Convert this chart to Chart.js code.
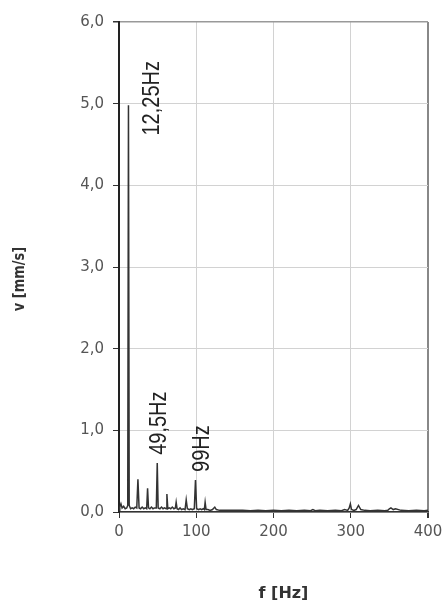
<!DOCTYPE html>
<html>
<head>
<meta charset="utf-8">
<script src="https://cdn.jsdelivr.net/npm/chart.js@4.4.1/dist/chart.umd.min.js"></script>
<style>
html,body{margin:0;padding:0;background:#fff;}
#wrap{width:444px;height:602px;position:relative;}
</style>
</head>
<body>
<div id="wrap"><canvas id="c" width="444" height="602"></canvas></div>
<script>
// Frequencies (Hz) and amplitudes (mm/s)
const freqs = [0, 1, 2.5, 4, 6, 8, 10, 11.3, 12.25, 13.2, 15, 17, 19, 21, 23, 24.5, 26, 28, 30, 32, 34, 35.8, 37, 38.2, 40, 42, 44, 46, 48.3, 49.5, 50.7, 53, 55, 57, 59, 61, 62, 63.2, 65, 67, 69, 71, 73, 74, 75.2, 77, 79, 81, 83, 85.5, 87, 88.5, 91, 93, 95, 97.5, 99, 100.5, 103, 105, 107, 109, 110.5, 111.5, 112.7, 115, 118, 121, 124, 126, 130, 140, 150, 160, 170, 180, 190, 200, 210, 220, 230, 240, 248, 251, 254, 260, 270, 280, 288, 292, 296, 298, 299.5, 301, 304, 307, 310, 313, 318, 325, 335, 344, 348, 350, 352, 355, 358, 365, 375, 385, 395, 400];
const amps  = [0.02, 0.06, 0.10, 0.05, 0.07, 0.04, 0.05, 0.08, 4.98, 0.08, 0.04, 0.05, 0.04, 0.06, 0.05, 0.40, 0.05, 0.04, 0.06, 0.04, 0.05, 0.04, 0.29, 0.05, 0.04, 0.06, 0.04, 0.05, 0.05, 0.60, 0.05, 0.04, 0.06, 0.04, 0.05, 0.04, 0.22, 0.04, 0.05, 0.04, 0.06, 0.04, 0.05, 0.12, 0.04, 0.03, 0.05, 0.03, 0.04, 0.03, 0.15, 0.04, 0.03, 0.04, 0.03, 0.04, 0.39, 0.04, 0.03, 0.04, 0.03, 0.04, 0.03, 0.12, 0.03, 0.03, 0.02, 0.03, 0.06, 0.03, 0.02, 0.02, 0.02, 0.02, 0.015, 0.02, 0.015, 0.02, 0.015, 0.02, 0.015, 0.02, 0.015, 0.03, 0.015, 0.02, 0.015, 0.02, 0.015, 0.03, 0.02, 0.05, 0.10, 0.03, 0.02, 0.03, 0.08, 0.03, 0.02, 0.015, 0.02, 0.015, 0.02, 0.04, 0.05, 0.03, 0.04, 0.02, 0.015, 0.02, 0.015, 0.02, 0.015];

const yTicks = ["0,0", "1,0", "2,0", "3,0", "4,0", "5,0", "6,0"];
const xTicks = ["0", "100", "200", "300", "400"];

const peakLabels = ["12,25Hz", "49,5Hz", "99Hz"];
const peakLabelX = [43, 53, 108];      // Hz (data units)
const peakLabelY = [4.61, 0.70, 0.49]; // mm/s (data units, text start)

const xTitle = "f [Hz]";
const yTitle = "v [mm/s]";

const points = freqs.map((f, i) => ({x: f, y: amps[i]}));

const overlay = {
  id: 'overlay',
  afterDatasetsDraw(chart) {
    const ctx = chart.ctx;
    const xs = chart.scales.x, ys = chart.scales.y;
    ctx.save();
    ctx.fillStyle = '#222';
    ctx.font = '20px "Liberation Sans", Arial, sans-serif';
    ctx.textAlign = 'left';
    ctx.textBaseline = 'middle';
    for (let i = 0; i < peakLabels.length; i++) {
      const px = xs.getPixelForValue(peakLabelX[i]);
      const py = ys.getPixelForValue(peakLabelY[i]);
      ctx.save();
      ctx.translate(px, py);
      ctx.rotate(-Math.PI / 2);
      ctx.scale(1, 1.15);
      ctx.fillText(peakLabels[i], 0, 0);
      ctx.restore();
    }
    // axis titles
    ctx.fillStyle = '#333';
    ctx.font = 'bold 16px "DejaVu Sans", sans-serif';
    ctx.textAlign = 'center';
    ctx.textBaseline = 'middle';
    const ca = chart.chartArea;
    ctx.fillText(xTitle, (ca.left + ca.right) / 2 + 10, 594);
    ctx.save();
    ctx.translate(20, (ca.top + ca.bottom) / 2 + 12);
    ctx.rotate(-Math.PI / 2);
    ctx.scale(1, 1.2);
    ctx.font = 'bold 13px "DejaVu Sans", sans-serif';
    ctx.fillText(yTitle, 0, 0);
    ctx.restore();
    ctx.restore();
  }
};

new Chart(document.getElementById('c'), {
  type: 'line',
  data: {
    datasets: [{
      data: points,
      borderColor: '#333',
      borderWidth: 1.5,
      pointRadius: 0,
      tension: 0,
      fill: false
    }]
  },
  options: {
    responsive: false,
    animation: false,
    devicePixelRatio: 1,
    layout: { padding: { left: 0, right: 16, top: 22, bottom: 0 } },
    plugins: { legend: { display: false }, tooltip: { enabled: false } },
    scales: {
      x: {
        type: 'linear',
        min: 0, max: 400,
        afterFit(s) { s.height = 90; s.paddingLeft = 0; s.paddingRight = 0; },
        ticks: {
          stepSize: 100,
          color: '#555',
          padding: 5,
          maxRotation: 0,
          font: { family: '"DejaVu Sans", sans-serif', size: 15 },
          callback: (v) => xTicks[Math.round(v / 100)]
        },
        grid: { color: (c) => c.index === 4 ? '#888' : '#d2d2d2', lineWidth: (c) => c.index === 4 ? 2 : 1, tickLength: 6, tickColor: '#333' },
        border: { color: '#333', width: 1.5 }
      },
      y: {
        type: 'linear',
        min: 0, max: 6,
        afterFit(s) { s.width = 119; s.paddingTop = 0; s.paddingBottom = 0; },
        ticks: {
          stepSize: 1,
          color: '#555',
          padding: 9,
          font: { family: '"DejaVu Sans", sans-serif', size: 15 },
          callback: (v) => yTicks[Math.round(v)]
        },
        grid: { color: (c) => c.index === 6 ? '#999' : '#d2d2d2', lineWidth: (c) => c.index === 6 ? 1.5 : 1, tickLength: 6, tickColor: '#333' },
        border: { color: '#222', width: 2 }
      }
    }
  },
  plugins: [overlay]
});
</script>
</body>
</html>
